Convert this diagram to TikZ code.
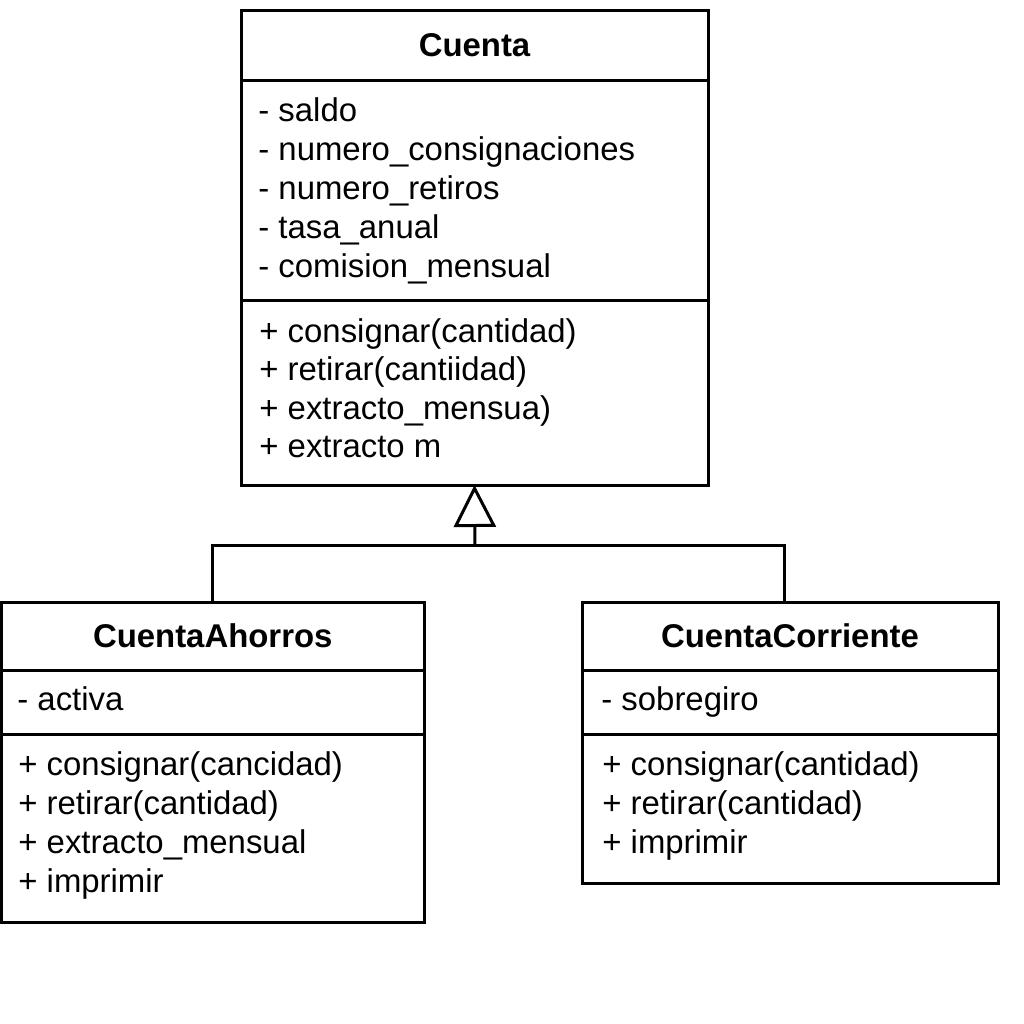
\documentclass[tikz,border=0pt]{standalone}
\usepackage{fontspec}
\setmainfont{Liberation Sans}
\usetikzlibrary{arrows.meta,positioning}

\begin{document}
\begin{tikzpicture}[x=0.5pt,y=-0.5pt,
  every node/.style={font=\fontsize{16.45}{19.5}\selectfont},
  box/.style={draw,line width=1.5pt,rectangle,outer sep=0pt,inner sep=0pt,anchor=north west},
  member/.style={anchor=base west,inner sep=0pt},
  link/.style={line width=1.5pt}]
  \useasboundingbox (0,0) rectangle (1024,1024);
  % clase base
  \node[box,minimum width=233.5pt,minimum height=35pt] (cuenta) at (241,10) {\bfseries Cuenta};
  \node[box,minimum width=233.5pt,minimum height=110pt,below=0pt of cuenta] (cuenta-attr) {};
  \node[box,minimum width=233.5pt,minimum height=92.5pt,below=0pt of cuenta-attr] (cuenta-ops) {};
  \foreach \t [count=\i] in {- saldo, - numero\_consignaciones, - numero\_retiros, - tasa\_anual, - comision\_mensual}
    \node[member] (cuenta-a\i) at (258,{121+39*(\i-1)}) {\t};
  \foreach \t [count=\i] in {+ consignar(cantidad), + retirar(cantiidad), + extracto\_mensua), + extracto m}
    \node[member] (cuenta-m\i) at (259,{342+38.5*(\i-1)}) {\t};
  % subclases
  \node[box,minimum width=211.25pt,minimum height=34pt] (ahorros) at (1.5,602) {\bfseries CuentaAhorros};
  \node[box,minimum width=211.25pt,minimum height=32pt,below=0pt of ahorros] (ahorros-attr) {};
  \node[box,minimum width=211.25pt,minimum height=94pt,below=0pt of ahorros-attr] (ahorros-ops) {};
  \node[member] (ahorros-a1) at (17,710) {- activa};
  \foreach \t [count=\i] in {+ consignar(cancidad), + retirar(cantidad), + extracto\_mensual, + imprimir}
    \node[member] (ahorros-m\i) at (18,{775+39*(\i-1)}) {\t};
  \node[box,minimum width=208pt,minimum height=34pt] (corriente) at (582,602) {\bfseries CuentaCorriente};
  \node[box,minimum width=208pt,minimum height=32pt,below=0pt of corriente] (corriente-attr) {};
  \node[box,minimum width=208pt,minimum height=74.5pt,below=0pt of corriente-attr] (corriente-ops) {};
  \node[member] (corriente-a1) at (601,710) {- sobregiro};
  \foreach \t [count=\i] in {+ consignar(cantidad), + retirar(cantidad), + imprimir}
    \node[member] (corriente-m\i) at (602,{775+39*(\i-1)}) {\t};
  % herencia
  \coordinate (junction) at (475,545);
  \draw[link] (ahorros.north) -- (ahorros.north |- junction) -- ([xshift=-3pt]corriente.north |- junction) -- ([xshift=-3pt]corriente.north);
  \draw[link,-{Triangle[open,length=21pt,width=21pt]}] (junction) -- (cuenta-ops.south);
\end{tikzpicture}
\end{document}
